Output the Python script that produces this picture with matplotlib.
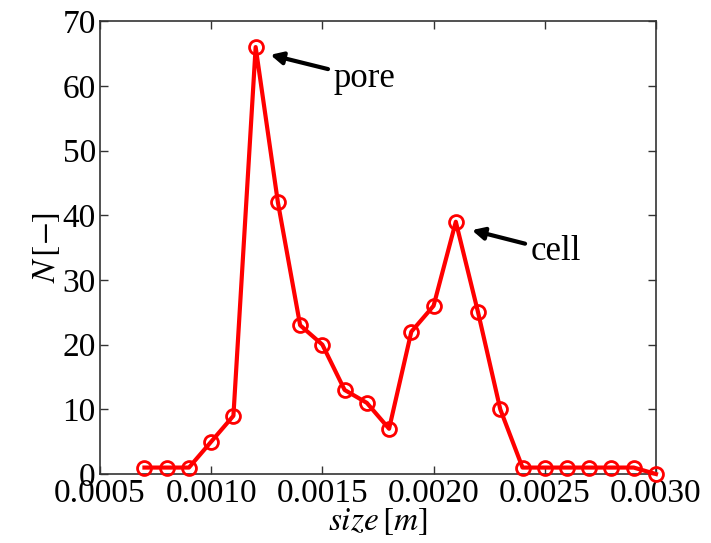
import matplotlib
matplotlib.use('Agg')
import matplotlib.pyplot as plt

plt.rcParams['font.family'] = ['Liberation Serif', 'DejaVu Serif']
plt.rcParams['mathtext.fontset'] = 'stix'

size = [0.0007, 0.0008, 0.0009, 0.0010, 0.0011, 0.0012, 0.0013, 0.0014,
        0.0015, 0.0016, 0.0017, 0.0018, 0.0019, 0.0020, 0.0021, 0.0022,
        0.0023, 0.0024, 0.0025, 0.0026, 0.0027, 0.0028, 0.0029, 0.0030]
count = [1, 1, 1, 5, 9, 66, 42, 23, 20, 13, 11, 7, 22, 26, 39, 25,
         10, 1, 1, 1, 1, 1, 1, 0]

xticks = [0.0005, 0.0010, 0.0015, 0.0020, 0.0025, 0.0030]
xticklabels = ['0.0005', '0.0010', '0.0015', '0.0020', '0.0025', '0.0030']

fig = plt.figure(figsize=(7.11, 5.43), dpi=100)
ax = fig.add_axes([0.1406, 0.127, 0.782, 0.834])

ax.plot(size, count, color='red', linewidth=3, marker='o', markersize=10,
        markerfacecolor='none', markeredgecolor='red', markeredgewidth=2,
        clip_on=False, zorder=3)

ax.annotate('pore', xy=(0.001266, 64.8), xytext=(0.00155, 61.2),
            fontsize=25, va='center', ha='left',
            arrowprops=dict(arrowstyle='-|>', color='black', lw=3,
                            mutation_scale=18, shrinkA=2, shrinkB=0))
ax.annotate('cell', xy=(0.002172, 37.7), xytext=(0.002436, 34.4),
            fontsize=25, va='center', ha='left',
            arrowprops=dict(arrowstyle='-|>', color='black', lw=3,
                            mutation_scale=18, shrinkA=2, shrinkB=0))

ax.set_xlim(0.0005, 0.0030)
ax.set_ylim(0, 70)
ax.set_xticks(xticks)
ax.set_xticklabels(xticklabels)
ax.set_yticks(range(0, 71, 10))
ax.tick_params(direction='in', top=True, right=True, labelsize=24,
               length=6, width=1, colors='#333333', labelcolor='black', pad=3)
for s in ax.spines.values():
    s.set_color('#333333')
    s.set_linewidth(1.2)

ax.set_xlabel(r'$size\,[m]$', fontsize=24, labelpad=-2)
ax.set_ylabel(r'$N\,[-]$', fontsize=24, labelpad=0)

fig.savefig('out.png', dpi=100)
